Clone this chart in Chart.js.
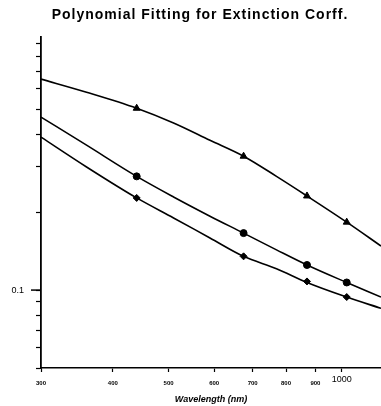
<!DOCTYPE html>
<html><head><meta charset="utf-8">
<script src="https://cdn.jsdelivr.net/npm/chart.js@4/dist/chart.umd.min.js"></script>
<style>html,body{margin:0;padding:0;background:#fff;overflow:hidden}#wrap{width:381px;height:406px;position:relative}</style>
</head><body><div id="wrap"><canvas id="c"></canvas></div>
<script>
const chartTitle = 'Polynomial Fitting for Extinction Corff.';
const xAxisTitle = 'Wavelength (nm)';

// fitted curves
const fitWavelengths = [300, 360, 440, 510, 590, 675, 770, 870, 1020, 1170];
const triangleFit = [0.653, 0.581, 0.504, 0.442, 0.379, 0.329, 0.275, 0.231, 0.183, 0.148];
const circleFit   = [0.466, 0.363, 0.275, 0.229, 0.193, 0.166, 0.143, 0.125, 0.107, 0.094];
const diamondFit  = [0.390, 0.299, 0.227, 0.190, 0.159, 0.135, 0.121, 0.107, 0.094, 0.085];

// measured points
const markerWavelengths = [440, 675, 870, 1020];
const trianglePts = [0.504, 0.329, 0.231, 0.183];
const circlePts   = [0.275, 0.166, 0.125, 0.107];
const diamondPts  = [0.227, 0.135, 0.108, 0.094];

// ticks
const xTickValues = [300, 400, 500, 600, 700, 800, 900, 1000];
const yTickValues = [0.05, 0.06, 0.07, 0.08, 0.09, 0.1, 0.2, 0.3, 0.4, 0.5, 0.6, 0.7, 0.8, 0.9];
const yLabelledTicks = [0.1];

const pts = (xs, ys) => xs.map((x, i) => ({x: x, y: ys[i]}));
const lineDs = d => ({data: d, borderColor: '#000', borderWidth: 1.6, pointRadius: 0,
  cubicInterpolationMode: 'monotone', fill: false});
const markDs = (d, style, r) => ({data: d, showLine: false, pointStyle: style, pointRadius: r,
  pointHoverRadius: r, backgroundColor: '#000', borderColor: '#000', borderWidth: 1});

const extras = {
  id: 'extras',
  afterDraw(chart) {
    const ctx = chart.ctx, y = chart.scales.y;
    ctx.save();
    ctx.strokeStyle = '#000'; ctx.lineWidth = 1.5;
    const py = y.getPixelForValue(0.1);
    ctx.beginPath(); ctx.moveTo(chart.chartArea.left - 10, py); ctx.lineTo(chart.chartArea.left, py); ctx.stroke();
    ctx.fillStyle = '#000';
    ctx.font = 'bold 14px "Liberation Sans", Arial, sans-serif';
    try { ctx.letterSpacing = '1px'; } catch (e) {}
    ctx.textAlign = 'center'; ctx.textBaseline = 'middle';
    ctx.fillText(chartTitle, 200, 15);
    ctx.restore();
  }
};

new Chart(document.getElementById('c'), {
  type: 'line',
  data: {
    datasets: [
      lineDs(pts(fitWavelengths, triangleFit)),
      lineDs(pts(fitWavelengths, circleFit)),
      lineDs(pts(fitWavelengths, diamondFit)),
      markDs(pts(markerWavelengths, trianglePts), 'triangle', 4),
      markDs(pts(markerWavelengths, circlePts), 'circle', 3.5),
      markDs(pts(markerWavelengths, diamondPts), 'rectRot', 3.5)
    ]
  },
  options: {
    responsive: true, maintainAspectRatio: false, animation: false,
    layout: {autoPadding: false, padding: {top: 37, left: 0, right: 0, bottom: 0}},
    plugins: {legend: {display: false}, tooltip: {enabled: false}, title: {display: false}},
    scales: {
      x: {
        type: 'logarithmic', min: 300, max: 1170,
        afterFit: s => { s.height = 38; s.paddingLeft = 0; s.paddingRight = 0; },
        afterBuildTicks: s => { s.ticks = xTickValues.map(v => ({value: v})); },
        border: {color: '#000', width: 1.6},
        grid: {drawOnChartArea: false, tickLength: 4, tickColor: '#000', tickWidth: 1.2},
        ticks: {
          color: '#000', padding: 5, maxRotation: 0, autoSkip: false,
          callback: v => String(v),
          font: ctx => (ctx.tick && ctx.tick.value === 1000)
            ? {family: '"Liberation Sans", Arial, sans-serif', size: 9, lineHeight: 0.45}
            : {family: '"Liberation Sans", Arial, sans-serif', size: 6, weight: 'bold', lineHeight: 2}
        },
        title: {display: true, text: xAxisTitle, color: '#000', padding: {top: 0, bottom: 1},
          font: {family: '"Liberation Sans", Arial, sans-serif', size: 9, weight: 'bold', style: 'italic'}}
      },
      y: {
        type: 'logarithmic', min: 0.05, max: 0.95,
        afterFit: s => { s.width = 41; s.paddingTop = 0; s.paddingBottom = 0; s.paddingLeft = 0; s.paddingRight = 0; },
        afterBuildTicks: s => { s.ticks = yTickValues.map(v => ({value: v})); },
        border: {color: '#000', width: 1.8},
        grid: {drawOnChartArea: false, tickLength: 5, tickColor: '#000', tickWidth: 1.2},
        ticks: {
          color: '#000', padding: 12, autoSkip: false,
          callback: v => yLabelledTicks.includes(v) ? String(v) : '',
          font: {family: '"Liberation Sans", Arial, sans-serif', size: 9}
        }
      }
    }
  },
  plugins: [extras]
});
</script>
</body></html>
